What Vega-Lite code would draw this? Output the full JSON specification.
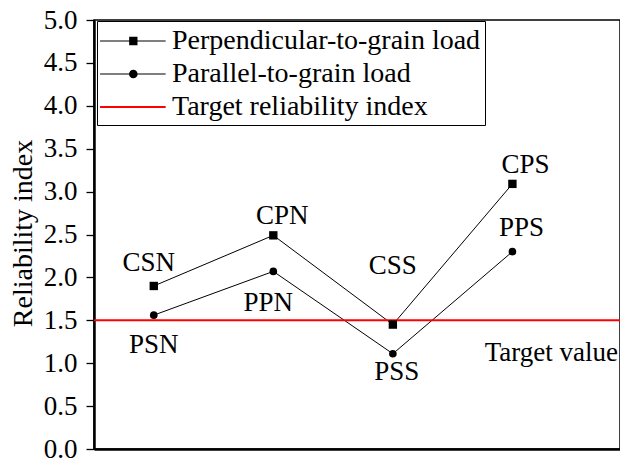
{
  "$schema": "https://vega.github.io/schema/vega-lite/v6.json",
  "autosize": {"type": "none"},
  "padding": {"left": 94, "top": 20, "right": 0, "bottom": 10},
  "width": 526,
  "height": 429,
  "config": {
    "font": "Liberation Serif",
    "view": {"stroke": "black", "strokeWidth": 1.5},
    "axis": {"grid": false, "labelFont": "Liberation Serif", "titleFont": "Liberation Serif"},
    "legend": {"labelFont": "Liberation Serif"},
    "text": {"font": "Liberation Serif"}
  },
  "datasets": {
    "pts": [
      {"case": "CSN", "series": "Perpendicular-to-grain load", "idx": 1, "beta": 1.9},
      {"case": "CPN", "series": "Perpendicular-to-grain load", "idx": 2, "beta": 2.49},
      {"case": "CSS", "series": "Perpendicular-to-grain load", "idx": 3, "beta": 1.45},
      {"case": "CPS", "series": "Perpendicular-to-grain load", "idx": 4, "beta": 3.09},
      {"case": "PSN", "series": "Parallel-to-grain load", "idx": 1, "beta": 1.56},
      {"case": "PPN", "series": "Parallel-to-grain load", "idx": 2, "beta": 2.07},
      {"case": "PSS", "series": "Parallel-to-grain load", "idx": 3, "beta": 1.11},
      {"case": "PPS", "series": "Parallel-to-grain load", "idx": 4, "beta": 2.3}
    ],
    "target": [
      {"series": "Target reliability index", "beta": 1.5, "label": "Target value"}
    ]
  },
  "layer": [
    {
      "data": {"name": "pts"},
      "mark": {"type": "line", "color": "black", "strokeWidth": 1},
      "encoding": {
        "x": {
          "field": "idx", "type": "quantitative",
          "scale": {"domain": [0.5, 4.9], "nice": false, "zero": false},
          "axis": {"title": null, "labels": false, "ticks": false, "domainColor": "black", "domainWidth": 2.5, "grid": false}
        },
        "y": {
          "field": "beta", "type": "quantitative",
          "scale": {"domain": [0, 5], "nice": false},
          "axis": {
            "title": "Reliability index",
            "titleFont": "Liberation Serif",
            "titleFontSize": 28, "titleFontWeight": "normal", "titleColor": "black",
            "titleAngle": -90, "titleAlign": "center", "titleBaseline": "middle",
            "titleX": -71, "titleY": 213,
            "values": [0, 0.25, 0.5, 0.75, 1, 1.25, 1.5, 1.75, 2, 2.25, 2.5, 2.75, 3, 3.25, 3.5, 3.75, 4, 4.25, 4.5, 4.75, 5],
            "labelExpr": "datum.value * 2 === round(datum.value * 2) ? format(datum.value, '.1f') : ''",
            "labelOverlap": false,
            "labelFont": "Liberation Serif",
            "labelFontSize": 27, "labelColor": "black", "labelPadding": 9,
            "tickSize": {"condition": {"test": "datum.value * 2 === round(datum.value * 2)", "value": 8}, "value": 4},
            "tickColor": "black", "tickWidth": 1.3,
            "domainColor": "black", "domainWidth": 2.5,
            "grid": false
          }
        },
        "detail": {"field": "series"}
      }
    },
    {
      "data": {"name": "target"},
      "mark": {"type": "rule", "color": "red", "strokeWidth": 2},
      "encoding": {"y": {"field": "beta", "type": "quantitative"}}
    },
    {
      "data": {"name": "target"},
      "mark": {"type": "text", "font": "Liberation Serif", "fontSize": 27, "align": "right", "baseline": "middle", "dx": -2, "dy": 33, "color": "black"},
      "encoding": {
        "x": {"value": "width"},
        "y": {"field": "beta", "type": "quantitative"},
        "text": {"field": "label"}
      }
    },
    {
      "data": {"name": "pts"},
      "transform": [{"filter": "datum.series === 'Perpendicular-to-grain load'"}],
      "mark": {"type": "square", "size": 70, "color": "black", "filled": true, "opacity": 1},
      "encoding": {
        "x": {"field": "idx", "type": "quantitative"},
        "y": {"field": "beta", "type": "quantitative"}
      }
    },
    {
      "data": {"name": "pts"},
      "transform": [{"filter": "datum.series === 'Parallel-to-grain load'"}],
      "mark": {"type": "circle", "size": 58, "color": "black", "opacity": 1},
      "encoding": {
        "x": {"field": "idx", "type": "quantitative"},
        "y": {"field": "beta", "type": "quantitative"}
      }
    },
    {
      "data": {"name": "pts"},
      "transform": [{"filter": "false"}],
      "mark": {"type": "point", "filled": true, "opacity": 1, "size": 1024},
      "encoding": {
        "x": {"field": "idx", "type": "quantitative"},
        "y": {"field": "beta", "type": "quantitative"},
        "color": {
          "field": "series", "type": "nominal",
          "scale": {"domain": ["Perpendicular-to-grain load", "Parallel-to-grain load", "Target reliability index"], "range": ["black", "black", "red"]},
          "legend": {
            "title": null, "orient": "none", "legendX": 3, "legendY": 1,
            "symbolSize": 1024, "symbolOpacity": 1, "symbolStrokeWidth": 0,
            "labelFont": "Liberation Serif",
            "labelFontSize": 28, "labelColor": "black", "labelOffset": 39, "labelLimit": 0,
            "strokeColor": "black", "fillColor": "white", "padding": 4, "rowPadding": 3
          }
        },
        "shape": {
          "field": "series", "type": "nominal",
          "scale": {
            "domain": ["Perpendicular-to-grain load", "Parallel-to-grain load", "Target reliability index"],
            "range": [
              "M-1.06,-0.031H0.76V0.031H-1.06Z M1.28,-0.031H3.04V0.031H1.28Z M0.76,-0.26H1.28V0.26H0.76Z",
              "M-1.06,-0.031H0.75V0.031H-1.06Z M1.29,-0.031H3.04V0.031H1.29Z M1.29,0A0.27,0.27,0,1,1,0.75,0A0.27,0.27,0,1,1,1.29,0Z",
              "M-1.06,-0.0625H3.04V0.0625H-1.06Z"
            ]
          },
          "legend": {
            "title": null, "orient": "none", "legendX": 3, "legendY": 1,
            "symbolSize": 1024, "symbolOpacity": 1, "symbolStrokeWidth": 0,
            "labelFont": "Liberation Serif",
            "labelFontSize": 28, "labelColor": "black", "labelOffset": 39, "labelLimit": 0,
            "strokeColor": "black", "fillColor": "white", "padding": 4, "rowPadding": 3
          }
        }
      }
    },
    {"data": {"name": "pts"}, "transform": [{"filter": "datum.case === 'CSN'"}], "mark": {"type": "text", "font": "Liberation Serif", "fontSize": 27, "color": "black", "baseline": "middle", "dx": -5, "dy": -23}, "encoding": {"x": {"field": "idx", "type": "quantitative"}, "y": {"field": "beta", "type": "quantitative"}, "text": {"field": "case"}}},
    {"data": {"name": "pts"}, "transform": [{"filter": "datum.case === 'PSN'"}], "mark": {"type": "text", "font": "Liberation Serif", "fontSize": 27, "color": "black", "baseline": "middle", "dx": 0, "dy": 30}, "encoding": {"x": {"field": "idx", "type": "quantitative"}, "y": {"field": "beta", "type": "quantitative"}, "text": {"field": "case"}}},
    {"data": {"name": "pts"}, "transform": [{"filter": "datum.case === 'CPN'"}], "mark": {"type": "text", "font": "Liberation Serif", "fontSize": 27, "color": "black", "baseline": "middle", "dx": 9, "dy": -19}, "encoding": {"x": {"field": "idx", "type": "quantitative"}, "y": {"field": "beta", "type": "quantitative"}, "text": {"field": "case"}}},
    {"data": {"name": "pts"}, "transform": [{"filter": "datum.case === 'PPN'"}], "mark": {"type": "text", "font": "Liberation Serif", "fontSize": 27, "color": "black", "baseline": "middle", "dx": -5, "dy": 32}, "encoding": {"x": {"field": "idx", "type": "quantitative"}, "y": {"field": "beta", "type": "quantitative"}, "text": {"field": "case"}}},
    {"data": {"name": "pts"}, "transform": [{"filter": "datum.case === 'CSS'"}], "mark": {"type": "text", "font": "Liberation Serif", "fontSize": 27, "color": "black", "baseline": "middle", "dx": 0, "dy": -59}, "encoding": {"x": {"field": "idx", "type": "quantitative"}, "y": {"field": "beta", "type": "quantitative"}, "text": {"field": "case"}}},
    {"data": {"name": "pts"}, "transform": [{"filter": "datum.case === 'PSS'"}], "mark": {"type": "text", "font": "Liberation Serif", "fontSize": 27, "color": "black", "baseline": "middle", "dx": 4, "dy": 18}, "encoding": {"x": {"field": "idx", "type": "quantitative"}, "y": {"field": "beta", "type": "quantitative"}, "text": {"field": "case"}}},
    {"data": {"name": "pts"}, "transform": [{"filter": "datum.case === 'CPS'"}], "mark": {"type": "text", "font": "Liberation Serif", "fontSize": 27, "color": "black", "baseline": "middle", "dx": 13, "dy": -19}, "encoding": {"x": {"field": "idx", "type": "quantitative"}, "y": {"field": "beta", "type": "quantitative"}, "text": {"field": "case"}}},
    {"data": {"name": "pts"}, "transform": [{"filter": "datum.case === 'PPS'"}], "mark": {"type": "text", "font": "Liberation Serif", "fontSize": 27, "color": "black", "baseline": "middle", "dx": 9, "dy": -24}, "encoding": {"x": {"field": "idx", "type": "quantitative"}, "y": {"field": "beta", "type": "quantitative"}, "text": {"field": "case"}}}
  ]
}
